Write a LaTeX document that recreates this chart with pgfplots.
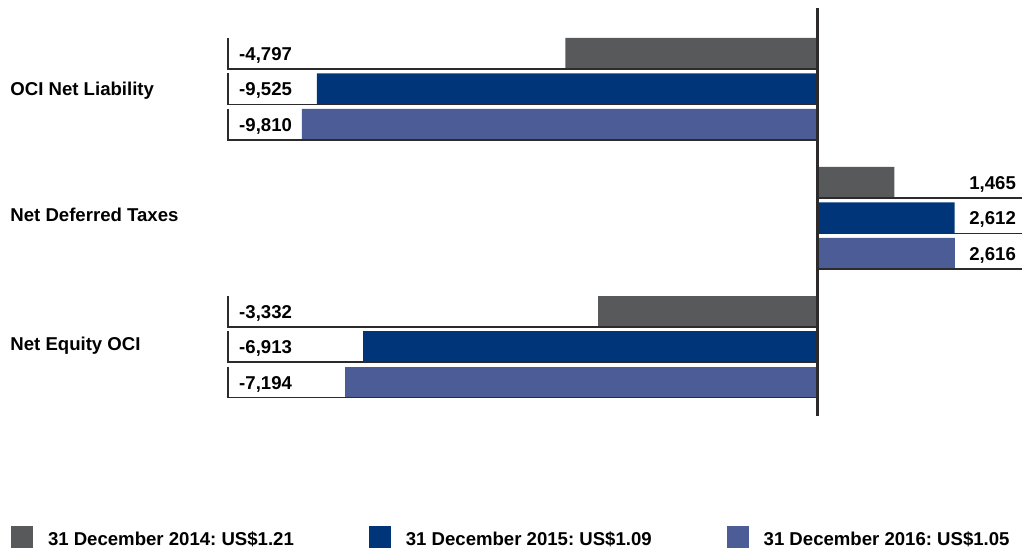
\documentclass[border=0pt]{standalone}
\usepackage{fontspec}
\setmainfont{Liberation Sans}
\usepackage{pgfplots}
\pgfplotsset{compat=1.18}
\frenchspacing
\definecolor{cA}{RGB}{88,89,91}
\definecolor{cB}{RGB}{0,53,122}
\definecolor{cC}{RGB}{75,92,151}
\definecolor{lineC}{RGB}{45,42,43}
\newcommand\negbox[2]{%
  \draw[lineC, line width=0.75pt] (axis cs:#2,#1-15.5) -- (axis cs:#2,#1+15.5) -- (axis cs:0,#1+15.5);}
\newcommand\posbox[1]{%
  \draw[lineC, line width=0.75pt] (axis cs:0,#1+15.5) -- (axis cs:3897,#1+15.5);}
\pgfplotsset{base/.style={
  scale only axis, width=511.5pt, height=274.5pt,
  ymin=0, ymax=549, y dir=reverse,
  hide axis, clip=false,
  xbar, bar width=31, bar shift=0pt}}
\begin{document}
\frenchspacing
\begin{tikzpicture}[font=\fontsize{9.3}{11}\selectfont\bfseries\frenchspacing]
% groups 1 and 2
\begin{axis}[base,
  xmin=-15552, xmax=3897,
  legend style={at={(axis cs:-15342,549)}, anchor=south west, draw=none, fill=none,
    inner sep=0pt, outer sep=0pt, legend columns=3, column sep=0pt,
    /tikz/every odd column/.append style={column sep=7.5pt},
    /tikz/every even column/.append style={column sep=37.5pt},
    nodes={inner sep=0pt, anchor=base west},
    font=\fontsize{9.3}{11}\selectfont\bfseries\frenchspacing},
  legend image code/.code={\fill[#1] (0pt,-1pt) rectangle (11pt,10pt);},
]
\path (rel axis cs:0,0) rectangle (rel axis cs:1,1);
\addplot[fill=cA, draw=none] coordinates {(-4797,53.5) (1465,182.5)};
\addlegendentry{31 December 2014: US\$1.21}
\addplot[fill=cB, draw=none] coordinates {(-9525,89) (2612,218)};
\addlegendentry{31 December 2015: US\$1.09}
\addplot[fill=cC, draw=none] coordinates {(-9810,124.5) (2616,253.5)};
\addlegendentry{31 December 2016: US\$1.05}
\negbox{53.5}{-11217}\negbox{89}{-11217}\negbox{124.5}{-11217}
\posbox{182.5}\posbox{218}\posbox{253.5}
\draw[lineC, line width=1.5pt] (axis cs:0,8) -- (axis cs:0,416);
\node[anchor=base west, inner sep=0pt] at (axis cs:-11008,60.5) {-4,797};
\node[anchor=base west, inner sep=0pt] at (axis cs:-11008,96) {-9,525};
\node[anchor=base west, inner sep=0pt] at (axis cs:-11008,131.5) {-9,810};
\node[anchor=base east, inner sep=0pt] at (axis cs:3783,189.5) {1,465};
\node[anchor=base east, inner sep=0pt] at (axis cs:3783,225) {2,612};
\node[anchor=base east, inner sep=0pt] at (axis cs:3783,260.5) {2,616};
\node[anchor=base west, inner sep=0pt] at (axis cs:-15361,96) {OCI Net Liability};
\node[anchor=base west, inner sep=0pt] at (axis cs:-15361,221.5) {Net Deferred Taxes};
\node[anchor=base west, inner sep=0pt] at (axis cs:-15361,351) {Net Equity OCI};
\end{axis}
% group 3 (drawn at its own scale in the original)
\begin{axis}[base, xmin=-12437, xmax=3117]
\addplot[fill=cA, draw=none] coordinates {(-3332,311.5)};
\addplot[fill=cB, draw=none] coordinates {(-6913,347)};
\addplot[fill=cC, draw=none] coordinates {(-7194,382.5)};
\negbox{311.5}{-8971}\negbox{347}{-8971}\negbox{382.5}{-8971}
\draw[lineC, line width=1.5pt] (axis cs:0,290) -- (axis cs:0,416);
\node[anchor=base west, inner sep=0pt] at (axis cs:-8803,318.5) {-3,332};
\node[anchor=base west, inner sep=0pt] at (axis cs:-8803,354) {-6,913};
\node[anchor=base west, inner sep=0pt] at (axis cs:-8803,389.5) {-7,194};
\end{axis}
\end{tikzpicture}
\end{document}
